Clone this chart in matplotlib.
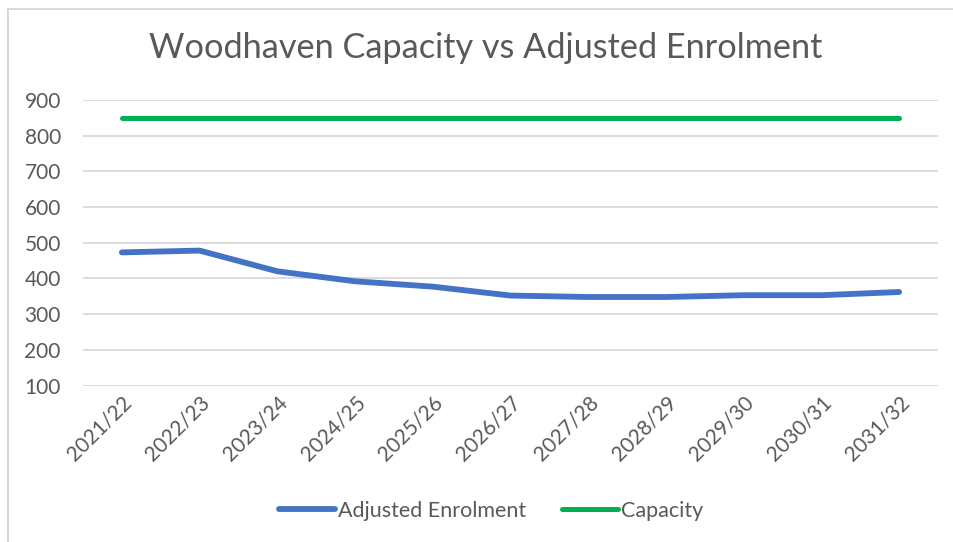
import matplotlib
matplotlib.use("Agg")
import matplotlib.pyplot as plt
from matplotlib.lines import Line2D

categories = ["2021/22", "2022/23", "2023/24", "2024/25", "2025/26", "2026/27",
              "2027/28", "2028/29", "2029/30", "2030/31", "2031/32"]
adjusted_enrolment = [473, 478, 420, 392, 377, 352, 348, 348, 353, 353, 362]
capacity = [850] * len(categories)
yticks = [100, 200, 300, 400, 500, 600, 700, 800, 900]
title = "Woodhaven Capacity vs Adjusted Enrolment"

plt.rcParams['font.family'] = ['Lato', 'DejaVu Sans']
text_color = "#595959"

fig = plt.figure(figsize=(9.54, 5.42), dpi=100)
ax = fig.add_axes([83/954, 1-385.5/542, (938-83)/954, (385.5-100)/542])

x = list(range(len(categories)))
ax.plot(x, adjusted_enrolment, color="#4472C4", lw=4.2, solid_capstyle="round",
        solid_joinstyle="round", label="Adjusted Enrolment", zorder=3)
ax.plot(x, capacity, color="#00B050", lw=3.6, solid_capstyle="round",
        label="Capacity", zorder=3)

ax.set_xlim(-0.5, len(categories) - 0.5)
ax.set_ylim(100, 900)
ax.set_yticks(yticks)
ax.set_yticklabels([str(v) for v in yticks])
ax.set_xticks(x)
ax.set_xticklabels(categories, rotation=45, ha="right", rotation_mode="anchor")
ax.tick_params(axis="both", length=0, labelsize=15, labelcolor=text_color)
ax.tick_params(axis="y", pad=16)
ax.tick_params(axis="x", pad=5)
ax.grid(axis="y", color="#D9D9D9", lw=1.3)
ax.set_axisbelow(True)
for s in ax.spines.values():
    s.set_visible(False)

fig.text(486/954, 1 - 48/542, title, ha="center", va="center",
         fontsize=24.7, color=text_color)

leg = fig.legend(loc="center", bbox_to_anchor=(491/954, 1 - 511/542), ncol=2,
                 frameon=False, fontsize=15.5, handlelength=2.6, handletextpad=0.15,
                 columnspacing=1.65, labelcolor=text_color)

fig.add_artist(Line2D([8/954, 8/954], [0, 1 - 9/542], transform=fig.transFigure,
                      color="#D9D9D9", lw=1.5))
fig.add_artist(Line2D([8/954, 1], [1 - 9/542, 1 - 9/542], transform=fig.transFigure,
                      color="#D9D9D9", lw=1.5))

fig.savefig("out.png", dpi=100, facecolor="white")
